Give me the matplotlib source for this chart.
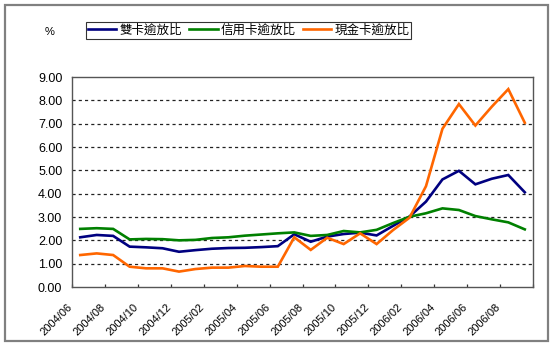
import matplotlib
matplotlib.use('Agg')
import matplotlib.pyplot as plt
import matplotlib.transforms as mtransforms
from matplotlib.patches import Rectangle
import numpy as np

plt.rcParams['font.family'] = ['Liberation Sans', 'Noto Sans CJK TC']

# monthly data 2004/06 - 2006/09
months = ['2004/06', '2004/07', '2004/08', '2004/09', '2004/10', '2004/11', '2004/12',
          '2005/01', '2005/02', '2005/03', '2005/04', '2005/05', '2005/06', '2005/07',
          '2005/08', '2005/09', '2005/10', '2005/11', '2005/12', '2006/01', '2006/02',
          '2006/03', '2006/04', '2006/05', '2006/06', '2006/07', '2006/08', '2006/09']

dual_card = [2.13, 2.23, 2.19, 1.73, 1.70, 1.66, 1.51, 1.58, 1.64, 1.67, 1.68, 1.71, 1.75, 2.26,
             1.94, 2.16, 2.27, 2.33, 2.21, 2.62, 3.02, 3.66, 4.61, 4.98, 4.40, 4.64, 4.80, 4.06]
credit_card = [2.49, 2.52, 2.49, 2.04, 2.06, 2.05, 2.00, 2.02, 2.10, 2.13, 2.20, 2.25, 2.30, 2.34,
               2.19, 2.23, 2.40, 2.34, 2.45, 2.74, 3.01, 3.16, 3.37, 3.30, 3.04, 2.90, 2.77, 2.47]
cash_card = [1.37, 1.44, 1.37, 0.87, 0.80, 0.80, 0.66, 0.77, 0.83, 0.83, 0.90, 0.87, 0.87, 2.13,
             1.59, 2.11, 1.84, 2.30, 1.84, 2.44, 2.97, 4.32, 6.78, 7.84, 6.92, 7.73, 8.48, 7.04]

series_names = ['雙卡逾放比', '信用卡逾放比', '現金卡逾放比']
colors = ['#000080', '#008000', '#ff6600']

W, H = 553, 347
fig = plt.figure(figsize=(W / 100, H / 100), dpi=100)
ax = fig.add_axes([72 / W, 1 - 287 / H, (533 - 72) / W, (287 - 77) / H])

x = np.arange(len(months))
for vals, name, c in zip([dual_card, credit_card, cash_card], series_names, colors):
    ax.plot(x, vals, color=c, lw=1.9, label=name, solid_joinstyle='miter')

ax.set_xlim(-0.5, len(months) - 0.5)
ax.set_ylim(0, 9)
ax.set_yticks(np.arange(0, 10))
ax.set_yticklabels([f'{v:.2f}' for v in range(10)], fontsize=9)
ax.tick_params(axis='y', length=0, pad=7)

for v in range(1, 9):
    ax.axhline(v, color='#222222', lw=0.9, ls=(0, (2.5, 2.5)), zorder=0)

# tick marks every two months, labels on the boundaries
ax.set_xticks(np.arange(-0.5, len(months), 2))
ax.set_xticklabels(months[::2] + [''], fontsize=8, rotation=45, ha='right',
                   va='center', rotation_mode='anchor')
ax.tick_params(axis='x', direction='in', length=2.5, width=0.9, color='#333333', pad=13.5)
offset = mtransforms.ScaledTranslation(-1 / 100, 0, fig.dpi_scale_trans)
for lab in ax.get_xticklabels():
    lab.set_transform(lab.get_transform() + offset)

for s in ax.spines.values():
    s.set_color('#555555')
    s.set_linewidth(1.0)

leg = fig.legend(loc='center', bbox_to_anchor=(248.5 / W, 1 - 30.5 / H), ncol=3,
                 fontsize=9, frameon=True, fancybox=False, handlelength=2.3,
                 handletextpad=0.25, columnspacing=0.55, borderpad=0.15,
                 borderaxespad=0)
leg.get_frame().set_edgecolor('#000000')
leg.get_frame().set_linewidth(0.8)

fig.text(50 / W, 1 - 32 / H, '%', fontsize=8, ha='center', va='center')

fig.patches.append(Rectangle((5 / W, 1 - 341 / H), (548 - 5) / W, (341 - 5) / H,
                             transform=fig.transFigure, fill=False,
                             edgecolor='#808080', lw=1.6))

fig.savefig('out.png', dpi=100)
